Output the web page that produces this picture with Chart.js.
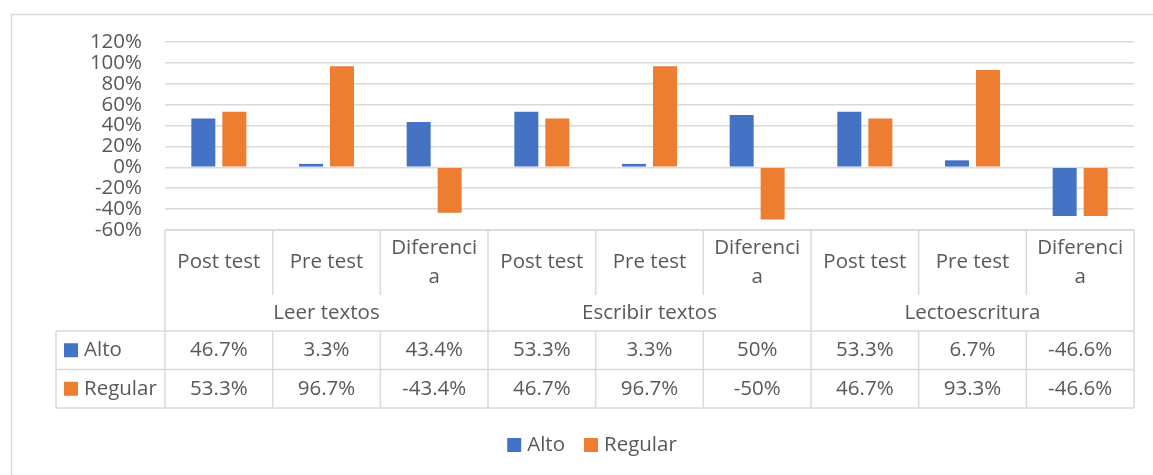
<!DOCTYPE html>
<html>
<head>
<meta charset="utf-8">
<script src="https://cdn.jsdelivr.net/npm/chart.js@4.4.1/dist/chart.umd.min.js"></script>
<style>
  html, body { margin: 0; padding: 0; background: #fff; }
  canvas { display: block; }
</style>
</head>
<body>
<canvas id="chart" width="1153" height="475"></canvas>
<script>
const groups = ['Leer textos', 'Escribir textos', 'Lectoescritura'];
const subLabels = ['Post test', 'Pre test', 'Diferencia'];
const categories = groups.flatMap(() => subLabels);
const alto = [46.7, 3.3, 43.4, 53.3, 3.3, 50, 53.3, 6.7, -46.6];
const regular = [53.3, 96.7, -43.4, 46.7, 96.7, -50, 46.7, 93.3, -46.6];
const yTicks = { min: -60, max: 120, step: 20 };

const FONT = "'Open Sans', sans-serif";
const TEXT = '#595959';
const LINE = '#d9d9d9';

// parte la etiqueta por caracteres si no cabe en la celda (como Excel)
function wrap(ctx, text, maxW) {
    const lines = [];
    let cur = '';
    for (const ch of text) {
        if (ctx.measureText(cur + ch).width > maxW && cur) {
            lines.push(cur);
            cur = ch;
        } else {
            cur += ch;
        }
    }
    lines.push(cur);
    return lines;
}

// tabla de datos debajo del gráfico + leyenda inferior
const dataTable = {
    id: 'dataTable',
    afterDraw(chart) {
        const { ctx, chartArea: a } = chart;
        const datasets = chart.data.datasets;
        const n = categories.length;
        const colW = (a.right - a.left) / n;
        const top = a.bottom;
        const subBottom = top + 65;
        const groupBottom = top + 101;
        const rowH = 38.5;
        const tableBottom = groupBottom + rowH * datasets.length;
        const legendLeft = 56;

        ctx.save();
        ctx.strokeStyle = LINE;
        ctx.lineWidth = 1.5;

        // borde exterior
        ctx.strokeRect(11.5, 14.5, 1300, 600);

        const line = (x1, y1, x2, y2) => {
            ctx.beginPath();
            ctx.moveTo(x1, y1);
            ctx.lineTo(x2, y2);
            ctx.stroke();
        };

        line(a.left, top, a.right, top);
        for (let i = 0; i <= n; i++) {
            const x = a.left + i * colW;
            const isGroupEdge = i % subLabels.length === 0;
            line(x, top, x, isGroupEdge ? tableBottom : subBottom);
            if (!isGroupEdge) line(x, groupBottom, x, tableBottom);
        }
        for (let r = 0; r <= datasets.length; r++) {
            const y = groupBottom + r * rowH;
            line(legendLeft, y, a.right, y);
        }
        line(legendLeft, groupBottom, legendLeft, tableBottom);

        ctx.fillStyle = TEXT;
        ctx.font = '20.5px ' + FONT;
        ctx.textAlign = 'center';
        ctx.textBaseline = 'middle';

        const subMid = (top + subBottom) / 2;
        categories.forEach((label, i) => {
            const cx = chart.scales.x.getPixelForValue(i);
            const lines = wrap(ctx, label, colW - 18);
            const lh = 29;
            lines.forEach((t, k) => {
                ctx.fillText(t, cx, subMid + (k - (lines.length - 1) / 2) * lh);
            });
        });

        groups.forEach((g, j) => {
            const cx = a.left + (j + 0.5) * colW * subLabels.length;
            ctx.fillText(g, cx, (subBottom + groupBottom) / 2);
        });

        datasets.forEach((ds, r) => {
            const cy = groupBottom + (r + 0.5) * rowH;
            ds.data.forEach((v, i) => {
                ctx.fillText(v + '%', chart.scales.x.getPixelForValue(i), cy);
            });
            ctx.fillStyle = ds.backgroundColor;
            ctx.fillRect(64, cy - 7, 14, 14);
            ctx.fillStyle = TEXT;
            ctx.textAlign = 'left';
            ctx.fillText(ds.label, 84, cy);
            ctx.textAlign = 'center';
        });

        // leyenda
        const box = 14, gap = 6, itemGap = 19, legendY = 445, legendCenter = 592;
        const widths = datasets.map(ds => box + gap + ctx.measureText(ds.label).width);
        const total = widths.reduce((s, w) => s + w, 0) + itemGap * (widths.length - 1);
        let lx = legendCenter - total / 2;
        ctx.textAlign = 'left';
        datasets.forEach((ds, r) => {
            ctx.fillStyle = ds.backgroundColor;
            ctx.fillRect(lx, legendY - box / 2, box, box);
            ctx.fillStyle = TEXT;
            ctx.fillText(ds.label, lx + box + gap, legendY);
            lx += widths[r] + itemGap;
        });

        ctx.restore();
    }
};

new Chart(document.getElementById('chart'), {
    type: 'bar',
    data: {
        labels: categories,
        datasets: [
            { label: 'Alto', data: alto, backgroundColor: '#4472C4' },
            { label: 'Regular', data: regular, backgroundColor: '#ED7D31' }
        ]
    },
    options: {
        responsive: false,
        devicePixelRatio: 1,
        animation: false,
        datasets: {
            bar: { barPercentage: 0.774, categoryPercentage: 0.576, borderWidth: 0 }
        },
        layout: { padding: { top: 42, right: 19, left: 0, bottom: 0 } },
        scales: {
            x: {
                grid: { display: false },
                border: { display: false },
                ticks: { display: false },
                afterFit: scale => { scale.height = 245; }
            },
            y: {
                min: yTicks.min,
                max: yTicks.max,
                ticks: {
                    stepSize: yTicks.step,
                    autoSkip: false,
                    padding: 23,
                    color: TEXT,
                    font: { family: FONT, size: 20.5 },
                    callback: v => v + '%'
                },
                grid: { color: LINE, lineWidth: 1.5, drawTicks: false },
                border: { display: false },
                afterFit: scale => { scale.width = 165; }
            }
        },
        plugins: {
            legend: { display: false },
            tooltip: { enabled: false }
        }
    },
    plugins: [dataTable]
});
</script>
</body>
</html>
